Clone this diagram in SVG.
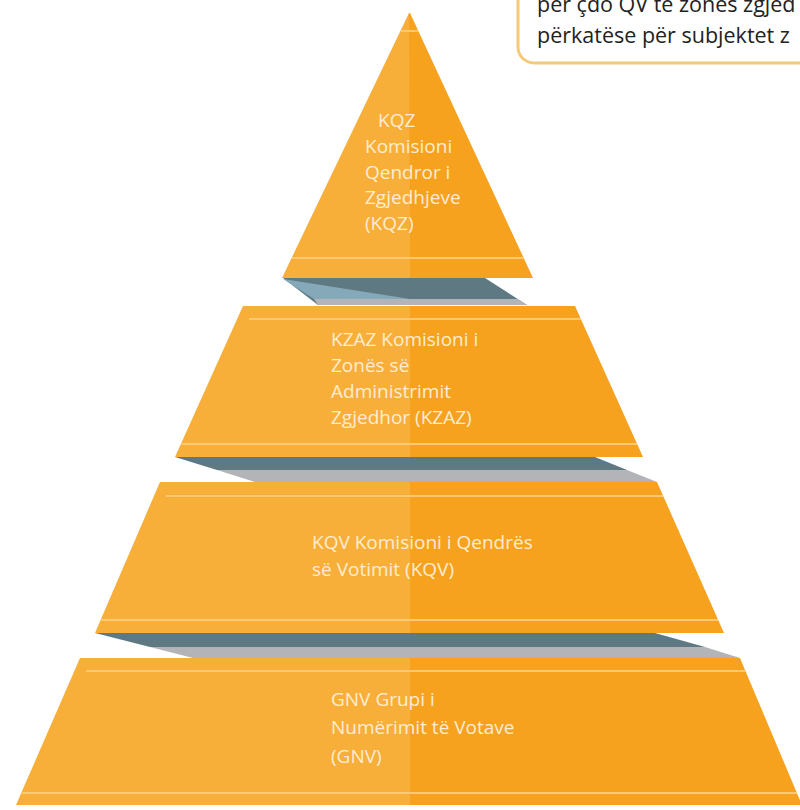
<svg xmlns="http://www.w3.org/2000/svg" width="800" height="810" viewBox="0 0 800 810">
<style>
.l{fill:#f8af3a}
.r{fill:#f6a21f}
.st{stroke:#fcc874;stroke-width:2;fill:none}
.dk{fill:#5f7983}
.gr{fill:#b3b4b7}
.lb{fill:#86a9ba}
.t{font-family:"Open Sans","Noto Sans",sans-serif;font-size:19px;fill:#fdecd2}
.c{font-family:"Open Sans","Noto Sans",sans-serif;font-size:21.5px;fill:#222222}
</style>
<rect width="800" height="810" fill="#ffffff"/>
<g id="callout">
<rect x="518" y="-30" width="320" height="93" rx="16" fill="#ffffff" stroke="#f6c978" stroke-width="3"/>
<text class="c" x="537" y="12">për çdo QV të zonës zgjed</text>
<text class="c" x="537" y="43">përkatëse për subjektet z</text>
</g>
<g id="connectors">
<polygon class="dk" points="283,278 485,278 527,305 318,305"/>
<polygon class="lb" points="283,279 410,299 314,299"/>
<polygon class="gr" points="314,299 518,299 527,305 318,305"/>
<polygon class="dk" points="175,457 595,457 627,470 217,470"/>
<polygon class="gr" points="217,470 627,470 657,482 255,482"/>
<polygon class="dk" points="95,633 655,633 705,647 150,647"/>
<polygon class="gr" points="150,647 705,647 740,658 193,658"/>
</g>
<g id="kqz">
<polygon class="l" points="409,13 410,13 410,278 282,278"/>
<polygon class="r" points="409,13 410,13 533,278 410,278"/>
<line class="st" x1="401" y1="31" x2="418" y2="31"/>
<line class="st" x1="292" y1="258" x2="524" y2="258"/>
<text class="t" x="378" y="127">KQZ</text>
<text class="t" x="365" y="153">Komisioni</text>
<text class="t" x="365" y="179">Qendror i</text>
<text class="t" x="365" y="204">Zgjedhjeve</text>
<text class="t" x="365" y="230">(KQZ)</text>
</g>
<g id="kzaz">
<polygon class="l" points="243,306 410,306 410,457 175,457"/>
<polygon class="r" points="410,306 575,306 643,457 410,457"/>
<line class="st" x1="249" y1="319" x2="581" y2="319"/>
<line class="st" x1="181" y1="444" x2="637" y2="444"/>
<text class="t" x="331" y="346">KZAZ Komisioni i</text>
<text class="t" x="331" y="372">Zonës së</text>
<text class="t" x="331" y="398">Administrimit</text>
<text class="t" x="331" y="424">Zgjedhor (KZAZ)</text>
</g>
<g id="kqv">
<polygon class="l" points="160,482 410,482 410,633 95,633"/>
<polygon class="r" points="410,482 657,482 724,633 410,633"/>
<line class="st" x1="166" y1="496" x2="663" y2="496"/>
<line class="st" x1="101" y1="620" x2="718" y2="620"/>
<text class="t" x="312" y="549">KQV Komisioni i Qendrës</text>
<text class="t" x="312" y="576">së Votimit (KQV)</text>
</g>
<g id="gnv">
<polygon class="l" points="80,658 410,658 410,805 16,805"/>
<polygon class="r" points="410,658 740,658 802,805 410,805"/>
<line class="st" x1="86" y1="671" x2="745" y2="671"/>
<line class="st" x1="21" y1="793" x2="797" y2="793"/>
<text class="t" x="331" y="706">GNV Grupi i</text>
<text class="t" x="331" y="734">Numërimit të Votave</text>
<text class="t" x="331" y="763">(GNV)</text>
</g>
</svg>
